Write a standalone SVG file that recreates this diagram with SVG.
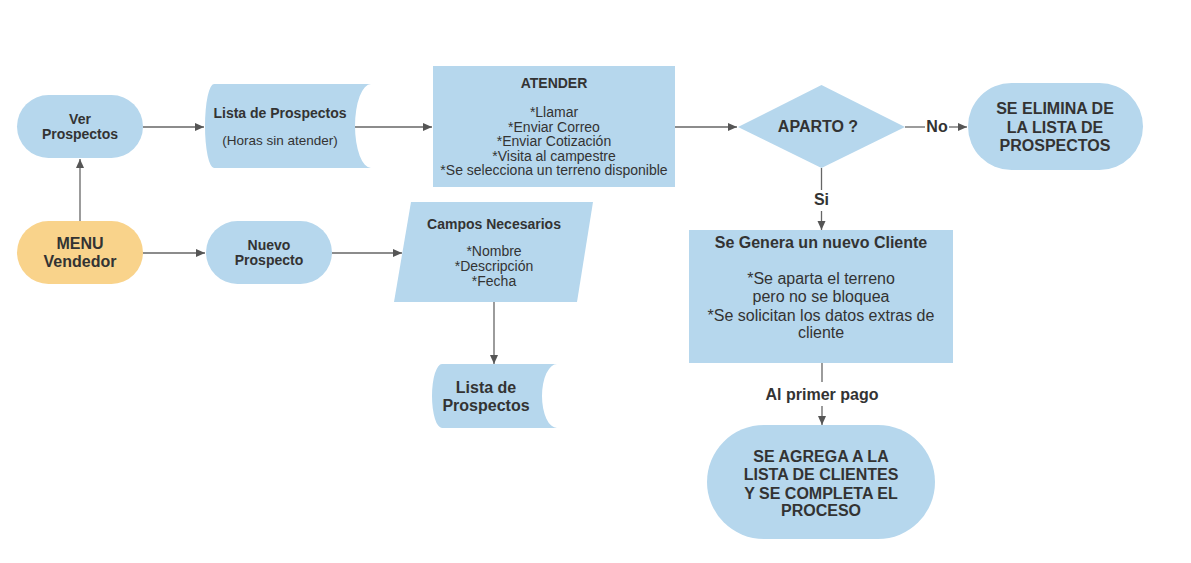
<svg xmlns="http://www.w3.org/2000/svg" width="1191" height="563" viewBox="0 0 1191 563">
<defs>
<marker id="arr" markerWidth="10" markerHeight="10" refX="9" refY="5" orient="auto" markerUnits="userSpaceOnUse">
<path d="M0,1 L9,5 L0,9 Z" fill="#555"/>
</marker>
<style>
.n{fill:#b6d7ed}
.o{fill:#f9d38b}
.c{stroke:#666;stroke-width:1.3;fill:none}
text{font-family:"Liberation Sans",Arial,sans-serif;fill:#333;text-anchor:middle}
.b{font-weight:bold}
</style>
</defs>
<rect width="1191" height="563" fill="#fff"/>
<g id="connectors">
<path class="c" d="M80,221 L80,159" marker-end="url(#arr)"/>
<path class="c" d="M143,127 L204,127" marker-end="url(#arr)"/>
<path class="c" d="M355,127 L432,127" marker-end="url(#arr)"/>
<path class="c" d="M675,127 L737,127" marker-end="url(#arr)"/>
<path class="c" d="M905,127 L925,127"/>
<path class="c" d="M949,127 L967,127" marker-end="url(#arr)"/>
<path class="c" d="M821.5,168 L821.5,190"/>
<path class="c" d="M821.5,211 L821.5,230" marker-end="url(#arr)"/>
<path class="c" d="M143,253 L205,253" marker-end="url(#arr)"/>
<path class="c" d="M332,253 L402,253" marker-end="url(#arr)"/>
<path class="c" d="M494,302 L494,364" marker-end="url(#arr)"/>
<path class="c" d="M822,363 L822,382"/>
<path class="c" d="M822,406 L822,425" marker-end="url(#arr)"/>
<text class="b" x="937" y="132" font-size="16">No</text>
<text class="b" x="821.5" y="205" font-size="16">Si</text>
<text class="b" x="822" y="400" font-size="16">Al primer pago</text>
</g>
<g id="ver">
<rect class="n" x="17" y="95" width="126" height="63" rx="31.5"/>
<text class="b" font-size="14" x="80" y="124">Ver</text>
<text class="b" font-size="14" x="80" y="139">Prospectos</text>
</g>
<g id="menu">
<rect class="o" x="17" y="221" width="126" height="63" rx="31.5"/>
<text class="b" font-size="16" x="80" y="249">MENU</text>
<text class="b" font-size="16" x="80" y="267">Vendedor</text>
</g>
<g id="nuevo">
<rect class="n" x="206" y="221" width="126" height="63" rx="31.5"/>
<text class="b" font-size="14" x="269" y="250">Nuevo</text>
<text class="b" font-size="14" x="269" y="265">Prospecto</text>
</g>
<g id="lista1">
<path class="n" d="M214,84 L371,84 A16,42 0 0 0 371,168 L214,168 A9,42 0 0 1 214,84 Z"/>
<text class="b" font-size="14" x="280" y="118">Lista de Prospectos</text>
<text font-size="13.5" x="280" y="145">(Horas sin atender)</text>
</g>
<g id="atender">
<rect class="n" x="433" y="66" width="242" height="121"/>
<text class="b" font-size="14" x="554" y="88">ATENDER</text>
<text font-size="14" x="554" y="117">*Llamar</text>
<text font-size="14" x="554" y="131.5">*Enviar Correo</text>
<text font-size="14" x="554" y="146">*Enviar Cotización</text>
<text font-size="14" x="554" y="160.5">*Visita al campestre</text>
<text font-size="14" x="554" y="175">*Se selecciona un terreno disponible</text>
</g>
<g id="aparto">
<path class="n" d="M821.5,85 L905,127 L821.5,168 L738,127 Z"/>
<text class="b" font-size="16" x="818" y="132">APARTO ?</text>
</g>
<g id="elimina">
<rect class="n" x="968" y="83" width="175" height="87" rx="43.5"/>
<text class="b" font-size="16" x="1055" y="114">SE ELIMINA DE</text>
<text class="b" font-size="16" x="1055" y="133">LA LISTA DE</text>
<text class="b" font-size="16" x="1055" y="151">PROSPECTOS</text>
</g>
<g id="genera">
<rect class="n" x="689" y="230" width="264" height="133"/>
<text class="b" font-size="16" x="821" y="248">Se Genera un nuevo Cliente</text>
<text font-size="16" x="821" y="284">*Se aparta el terreno</text>
<text font-size="16" x="821" y="302">pero no se bloquea</text>
<text font-size="16" x="821" y="321">*Se solicitan los datos extras de</text>
<text font-size="16" x="821" y="338">cliente</text>
</g>
<g id="agrega">
<rect class="n" x="707" y="425" width="228" height="114" rx="57"/>
<text class="b" font-size="16" x="821" y="462">SE AGREGA A LA</text>
<text class="b" font-size="16" x="821" y="480">LISTA DE CLIENTES</text>
<text class="b" font-size="16" x="821" y="499">Y SE COMPLETA EL</text>
<text class="b" font-size="16" x="821" y="516">PROCESO</text>
</g>
<g id="campos">
<path class="n" d="M411,202 L593,202 L577,302 L394,302 Z"/>
<text class="b" font-size="14" x="494" y="229">Campos Necesarios</text>
<text font-size="14" x="494" y="256">*Nombre</text>
<text font-size="14" x="494" y="271">*Descripción</text>
<text font-size="14" x="494" y="286">*Fecha</text>
</g>
<g id="lista2">
<path class="n" d="M442,364 L557,364 A15,32 0 0 0 557,428 L442,428 A10,32 0 0 1 442,364 Z"/>
<text class="b" font-size="16" x="486" y="393">Lista de</text>
<text class="b" font-size="16" x="486" y="411">Prospectos</text>
</g>
</svg>
